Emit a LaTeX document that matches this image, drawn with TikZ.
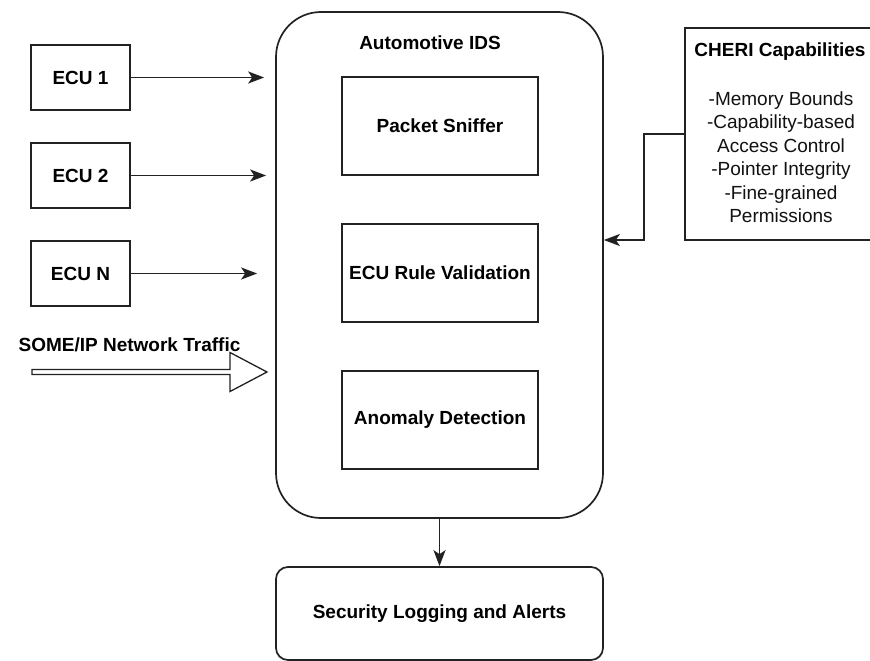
\documentclass[tikz,border=0pt]{standalone}
\usepackage{fontspec}
\setmainfont{Liberation Sans}
\usepackage{xcolor}
\usepackage{tikz}
\usetikzlibrary{arrows.meta,positioning,calc}
\definecolor{ink}{HTML}{111111}
\definecolor{edge}{HTML}{222222}

\begin{document}
\begin{tikzpicture}[x=1pt,y=-1pt,
  font=\fontsize{19}{23.5}\selectfont\color{ink},
  line width=1.7pt,
  box/.style={draw=edge,fill=white,align=center,inner sep=0pt},
  ecu/.style={box,minimum width=99pt,minimum height=65pt,font=\fontsize{19}{23.5}\selectfont\bfseries},
  stage/.style={box,minimum width=196pt,minimum height=98pt,font=\fontsize{19}{23.5}\selectfont\bfseries},
  link/.style={draw=edge,line width=1.8pt,-{Stealth[length=16pt,width=12pt,inset=4pt]}},
]
  \useasboundingbox (0,0) rectangle (870,661);
  % the IDS container and its three stages
  \node[box,rounded corners=45pt,minimum width=327pt,minimum height=506pt] (ids) at (439.5,265) {};
  \node[font=\fontsize{19}{23.5}\selectfont\bfseries] (idstitle) at (430,43) {Automotive IDS};
  \node[stage] (sniff) at (440,126) {Packet Sniffer};
  \node[stage] (rules) at (440,273) {ECU Rule Validation};
  \node[stage] (anom) at (440,420) {Anomaly Detection};
  \node[box,rounded corners=12pt,minimum width=327pt,minimum height=93pt,
        font=\fontsize{19}{23.5}\selectfont\bfseries] (log) at (439.5,613.5) {Security Logging and Alerts};

  % ECUs feeding the IDS
  \node[ecu] (ecu1) at (80.5,77.5) {ECU 1};
  \node[ecu] (ecu2) at (80.5,175.5) {ECU 2};
  \node[ecu] (ecun) at (80.5,273.5) {ECU N};
  \draw[link,shorten >=11pt] (ecu1) -- (ecu1 -| ids.west);
  \draw[link,shorten >=9pt] (ecu2) -- (ecu2 -| ids.west);
  \draw[link,shorten >=18pt] (ecun) -- (ecun -| ids.west);

  % CHERI side box
  \node[box,minimum width=187pt,minimum height=212pt,anchor=west] (cheri) at (684,134) {};
  \node[font=\fontsize{19}{23.5}\selectfont\bfseries] (cherititle) at (780,52) {CHERI Capabilities};
  \node[align=center] (cherilist) at (781,157)
    {-Memory Bounds\\-Capability-based\\Access Control\\-Pointer Integrity\\-Fine-grained\\Permissions};
  \draw[link] (cheri.west) -- ++(-40,0) |- ([yshift=25pt]ids.east);

  \draw[link] (ids.south) -- (log.north);

  % SOME/IP traffic, hollow block arrow
  \node[font=\fontsize{19}{23.5}\selectfont\bfseries] (traffic) at (129.5,345) {SOME/IP Network Traffic};
  \coordinate (feed) at (32,372);
  \draw[draw=edge,fill=white,line width=1.3pt,line join=miter]
    (feed) ++(0,-2.5) -- ++(198,0) -- ++(0,-17) -- (267,372) -- (230,391.5) -- (230,374.5) -- ($(feed)+(0,2.5)$) -- cycle;
\end{tikzpicture}
\end{document}
